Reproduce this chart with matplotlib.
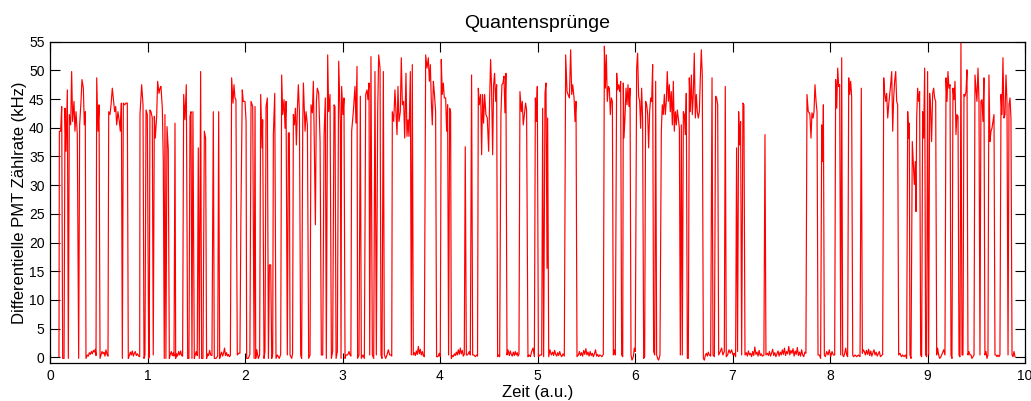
import matplotlib
matplotlib.use("Agg")
import matplotlib.pyplot as plt

# (time [a.u.], count rate [kHz]), one list per time unit
seg0 = [(0.092, 0.1), (0.096, 39.4), (0.109, 39.4), (0.120, 43.7), (0.130, -0.2), (0.144, -0.2), (0.154, 43.4),
        (0.164, 35.9), (0.178, 46.6), (0.188, -0.2), (0.198, 42.3), (0.212, 40.5), (0.222, 49.8), (0.232, 41.1),
        (0.246, 44.6), (0.256, 39.4), (0.267, 42.8), (0.280, 38.8), (0.294, -0.2), (0.304, 40.5), (0.318, 44.6),
        (0.328, 48.4), (0.342, 46.9), (0.352, 40.5), (0.362, 42.8), (0.369, -0.2), (0.383, 0.4), (0.393, 0.2),
        (0.403, 0.8), (0.414, 0.5), (0.424, 1.0), (0.434, 0.6), (0.444, 1.2), (0.455, 0.9), (0.465, 1.4),
        (0.472, 0.3), (0.479, 48.7), (0.492, 39.4), (0.503, 44.0), (0.513, -0.2), (0.523, 0.4), (0.533, 1.0),
        (0.544, 0.6), (0.554, 0.9), (0.564, 0.2), (0.574, 1.3), (0.585, 0.5), (0.595, 0.2), (0.602, 42.8),
        (0.615, 42.3), (0.626, 44.0), (0.639, 46.9), (0.653, 44.6), (0.663, 42.8), (0.674, 43.7), (0.684, 40.5),
        (0.697, 42.8), (0.711, 41.1), (0.721, 39.4), (0.732, 44.3), (0.742, -0.2), (0.752, 44.3), (0.766, 44.0),
        (0.779, 44.3), (0.793, 44.3), (0.803, -0.2), (0.814, 0.3), (0.824, 0.9), (0.834, 0.4), (0.844, 1.1),
        (0.855, 0.2), (0.865, 0.7), (0.875, 1.0), (0.885, 0.3), (0.896, 0.6), (0.909, 0.2), (0.920, 0.1),
        (0.923, 42.3), (0.940, 47.5), (0.954, 44.0), (0.964, -0.2), (0.974, 0.4), (0.985, 43.1), (0.998, 42.3),
        (1.012, -0.2)]

seg1 = [(1.018, 0.2), (1.025, 43.1), (1.036, 42.8), (1.049, 41.7), (1.059, 0.4), (1.070, 42.0), (1.080, 38.2),
        (1.094, 42.0), (1.104, 48.1), (1.118, 46.0), (1.128, 46.9), (1.138, 47.2), (1.152, 43.4), (1.162, 34.1),
        (1.172, -0.2), (1.179, 42.3), (1.189, -0.2), (1.200, 40.2), (1.213, 36.2), (1.224, -0.2), (1.234, 0.5),
        (1.244, 1.0), (1.254, 0.3), (1.265, 0.8), (1.272, 0.2), (1.282, 40.8), (1.289, -0.2), (1.299, 0.6),
        (1.309, 0.2), (1.319, 1.0), (1.330, 0.4), (1.340, 1.1), (1.350, 0.3), (1.360, 0.2), (1.371, 45.8),
        (1.384, 41.4), (1.398, 47.5), (1.412, -0.2), (1.425, -0.2), (1.436, 42.0), (1.446, 42.8), (1.456, -0.2),
        (1.466, 42.8), (1.480, -0.2), (1.490, 0.5), (1.500, 1.0), (1.510, 0.3), (1.521, 36.5), (1.531, -0.2),
        (1.545, 49.8), (1.555, -0.2), (1.569, -0.2), (1.583, 39.4), (1.596, 38.2), (1.606, -0.2), (1.617, 0.6),
        (1.627, 0.3), (1.637, 1.2), (1.648, 0.4), (1.661, 0.3), (1.675, 42.8), (1.685, -0.2), (1.702, -0.2),
        (1.720, 0.2), (1.730, 42.8), (1.740, -0.2), (1.750, 0.4), (1.760, 0.9), (1.770, 0.2), (1.780, 0.7),
        (1.790, 1.6), (1.800, 0.3), (1.810, 0.8), (1.820, 0.2), (1.830, 0.5), (1.840, 0.1), (1.850, 0.3),
        (1.863, 48.7), (1.877, 44.3), (1.887, 47.5), (1.897, 45.2), (1.907, 44.9), (1.921, 0.4), (1.935, 0.7),
        (1.948, 0.7), (1.958, 24.5), (1.972, 46.6), (1.982, 44.6)]

seg2 = [(2.000, 44.6), (2.011, 41.1), (2.017, -0.2), (2.034, -0.2), (2.050, 0.5), (2.062, 44.6), (2.079, 43.7),
        (2.093, -0.2), (2.103, 43.7), (2.110, -0.2), (2.120, 1.3), (2.137, -0.2), (2.150, 0.4), (2.161, 45.8),
        (2.175, 36.5), (2.181, 41.4), (2.195, -0.2), (2.205, 1.0), (2.216, 43.7), (2.229, 45.2), (2.240, -0.2),
        (2.250, 16.1), (2.264, 16.1), (2.274, -0.2), (2.284, 0.6), (2.291, 38.8), (2.305, 46.0), (2.318, -0.2),
        (2.332, 0.4), (2.352, -0.2), (2.366, 0.5), (2.376, 49.2), (2.387, 42.3), (2.400, 44.9), (2.411, 39.9),
        (2.421, 44.6), (2.434, 0.4), (2.445, 39.1), (2.455, 39.1), (2.462, 0.4), (2.479, -0.2), (2.488, 0.6),
        (2.496, 42.3), (2.506, 40.5), (2.517, 43.4), (2.527, 37.0), (2.537, 43.1), (2.547, 47.5), (2.558, 42.8),
        (2.571, 0.4), (2.581, -0.2), (2.592, 40.2), (2.599, 47.8), (2.616, 39.4), (2.626, 42.8), (2.640, 40.5),
        (2.653, -0.2), (2.667, 0.4), (2.677, 44.0), (2.691, 42.6), (2.701, 48.1), (2.711, 37.0), (2.722, 23.1),
        (2.732, 44.6), (2.742, 46.9), (2.756, 46.0), (2.770, 37.6), (2.783, 0.4), (2.797, 0.4), (2.811, 38.8),
        (2.824, 45.2), (2.834, -0.2), (2.848, 52.7), (2.858, 42.8), (2.872, 45.8), (2.886, -0.2), (2.899, 1.0),
        (2.913, 44.0), (2.923, 43.7), (2.934, -0.2), (2.947, 1.0), (2.961, 51.6)]

seg3 = [(2.978, 40.8), (2.985, -0.2), (2.991, 47.2), (3.005, 42.3), (3.015, 45.2), (3.026, -0.2), (3.036, 0.4),
        (3.053, 0.4), (3.067, 1.0), (3.077, 0.4), (3.086, 0.2), (3.094, 39.4), (3.111, 42.8), (3.128, 47.2),
        (3.138, 40.8), (3.149, 50.7), (3.155, -0.2), (3.169, 0.4), (3.183, 45.5), (3.193, -0.2), (3.210, 0.4),
        (3.224, -0.2), (3.238, 45.8), (3.251, 46.6), (3.261, 44.9), (3.272, 47.8), (3.279, 0.4), (3.292, 52.4),
        (3.306, 0.4), (3.320, -0.2), (3.333, 49.8), (3.347, 0.4), (3.361, 42.8), (3.371, 52.7), (3.385, 50.4),
        (3.395, 0.4), (3.405, -0.2), (3.419, 49.8), (3.429, 0.4), (3.443, -0.2), (3.456, 0.4), (3.470, 1.3),
        (3.484, 0.4), (3.497, 0.4), (3.505, 0.2), (3.511, 42.8), (3.525, 41.1), (3.538, 46.6), (3.549, 42.3),
        (3.559, 38.8), (3.569, 47.2), (3.579, 41.1), (3.593, 42.8), (3.603, 52.2), (3.614, 44.0), (3.627, 44.6),
        (3.638, 38.2), (3.651, 49.5), (3.661, 38.5), (3.672, 41.4), (3.682, 38.5), (3.696, 49.8), (3.706, 0.4),
        (3.716, 51.0), (3.726, 0.4), (3.737, 0.8), (3.747, 0.3), (3.757, 1.1), (3.767, 0.5), (3.778, 1.9),
        (3.788, 0.6), (3.798, 1.4), (3.808, 0.4), (3.819, 1.0), (3.829, 0.3), (3.839, 0.1), (3.853, 52.7),
        (3.867, 50.4), (3.880, 52.2), (3.891, 48.1), (3.901, 51.0), (3.911, 44.6), (3.921, 40.5), (3.932, 48.1)]

seg4 = [(3.941, 46.3), (3.955, 42.8), (3.965, 0.1), (3.979, 0.1), (3.993, 0.7), (4.003, 0.1), (4.013, 51.9),
        (4.023, 45.8), (4.034, 47.8), (4.044, 45.2), (4.058, 45.2), (4.068, 39.4), (4.078, 44.0), (4.088, 0.4),
        (4.099, 43.4), (4.109, 42.8), (4.116, -0.2), (4.126, 0.3), (4.136, 0.1), (4.147, 0.6), (4.157, 0.3),
        (4.167, 0.9), (4.177, 0.4), (4.188, 1.3), (4.198, 0.5), (4.208, 1.6), (4.218, 0.6), (4.229, 1.2),
        (4.239, 0.2), (4.249, 0.5), (4.259, 36.7), (4.270, 0.4), (4.283, 0.4), (4.300, 1.0), (4.311, 0.4),
        (4.324, 49.2), (4.335, 0.4), (4.348, 0.4), (4.362, 0.1), (4.376, 0.4), (4.385, 0.2), (4.393, 46.9),
        (4.403, 44.0), (4.417, 45.8), (4.427, 35.3), (4.437, 45.8), (4.447, 40.8), (4.458, 45.8), (4.471, 42.3),
        (4.485, 41.7), (4.499, 35.9), (4.509, 44.9), (4.519, 51.9), (4.529, 46.9), (4.540, 35.3), (4.550, 47.5),
        (4.560, 49.5), (4.571, 44.6), (4.581, 47.5), (4.591, 0.1), (4.601, 0.4), (4.612, 0.1), (4.625, 42.3),
        (4.635, 47.5), (4.646, 47.8), (4.656, 49.0), (4.666, 42.6), (4.676, 49.5), (4.687, 0.4), (4.697, 1.3),
        (4.711, 0.3), (4.721, 1.1), (4.731, 0.5), (4.741, 0.2), (4.752, 0.9), (4.762, 0.3), (4.772, 1.0),
        (4.782, 0.4), (4.793, 0.8), (4.800, 0.2), (4.810, 0.5), (4.820, 46.3), (4.834, 42.8), (4.844, 44.6),
        (4.854, 40.5), (4.868, 42.8), (4.878, 44.3), (4.888, 43.1), (4.902, 0.1)]

seg5 = [(4.913, 0.4), (4.927, 0.1), (4.940, 1.0), (4.954, 1.6), (4.968, 0.1), (4.978, 45.2), (4.988, 41.1),
        (4.998, 47.2), (5.009, 0.1), (5.026, 0.4), (5.043, 0.4), (5.053, 43.4), (5.063, 0.1), (5.077, 46.0),
        (5.087, 47.8), (5.098, 15.5), (5.104, 41.7), (5.115, 0.1), (5.128, 1.3), (5.142, 0.4), (5.156, 0.9),
        (5.166, 0.3), (5.176, 1.2), (5.187, 0.5), (5.197, 0.2), (5.207, 0.8), (5.217, 0.3), (5.228, 1.0),
        (5.238, 0.4), (5.248, 0.1), (5.262, 0.6), (5.275, 0.2), (5.289, 52.7), (5.303, 46.3), (5.313, 45.8),
        (5.327, 45.2), (5.340, 53.6), (5.351, 45.8), (5.361, 47.5), (5.375, 45.2), (5.385, 41.1), (5.395, 44.6),
        (5.405, 0.1), (5.419, 0.4), (5.430, 1.0), (5.441, 0.3), (5.452, 0.8), (5.463, 0.2), (5.474, 1.2),
        (5.485, 0.5), (5.496, 1.5), (5.507, 0.4), (5.518, 0.9), (5.529, 0.2), (5.540, 1.0), (5.551, 0.3),
        (5.562, 0.7), (5.573, 0.1), (5.584, 0.6), (5.595, 1.3), (5.606, 0.2), (5.617, 0.5), (5.628, 0.1),
        (5.639, 0.4), (5.650, 0.3), (5.660, 0.1), (5.675, 0.5), (5.686, 54.2), (5.696, 46.9), (5.706, 52.7),
        (5.716, 44.6), (5.727, 47.2), (5.737, 46.9), (5.747, 42.3), (5.757, 45.2), (5.768, 44.6), (5.778, 0.4),
        (5.788, 1.3), (5.798, 0.4), (5.812, 49.5), (5.822, 46.6), (5.833, 47.5), (5.843, 46.3), (5.853, 48.1),
        (5.863, 0.4), (5.874, 0.1)]

seg6 = [(5.880, 47.8), (5.887, 38.2), (5.897, 41.7), (5.908, 46.9), (5.918, 44.0), (5.928, 47.5), (5.938, 43.7),
        (5.949, 46.9), (5.959, 0.4), (5.969, -0.5), (5.983, 0.1), (5.993, 1.6), (6.003, 1.0), (6.017, 50.4),
        (6.027, 53.0), (6.037, 45.5), (6.048, 44.6), (6.058, 39.9), (6.068, 46.9), (6.078, 41.7), (6.089, -0.2),
        (6.099, 0.1), (6.109, 44.6), (6.120, 44.0), (6.130, 42.3), (6.140, 36.5), (6.150, 42.8), (6.161, 45.2),
        (6.171, 44.6), (6.181, 51.0), (6.191, 1.0), (6.202, 0.4), (6.212, 48.1), (6.222, 0.4), (6.232, -0.2),
        (6.243, -0.5), (6.256, 0.4), (6.270, 39.4), (6.280, 44.0), (6.290, 42.3), (6.301, 45.8), (6.311, 42.3),
        (6.321, 44.6), (6.331, 49.8), (6.342, 44.6), (6.352, 47.5), (6.362, 42.8), (6.372, 46.3), (6.383, 40.5),
        (6.393, 48.1), (6.403, 39.4), (6.414, 42.8), (6.424, 40.5), (6.434, 43.1), (6.444, 41.7), (6.455, 39.9),
        (6.465, 0.4), (6.475, 40.5), (6.485, 0.4), (6.496, 42.8), (6.506, 42.3), (6.516, 38.8), (6.526, 46.0),
        (6.537, -0.2), (6.547, -0.2), (6.557, 48.7), (6.567, 42.8), (6.578, 49.2), (6.588, 42.3), (6.598, 45.8),
        (6.608, 53.0), (6.619, 41.7), (6.629, 45.8), (6.639, 42.8), (6.649, 41.7), (6.660, 42.8), (6.670, 48.7),
        (6.680, 53.6), (6.690, 49.2), (6.701, -0.2), (6.711, -0.5), (6.721, 0.3), (6.731, 0.7), (6.742, 0.2),
        (6.752, 0.9), (6.762, 0.4), (6.776, 0.2), (6.790, 48.7), (6.800, 0.4), (6.814, 0.1), (6.827, 45.5),
        (6.837, 45.2), (6.848, 44.0), (6.858, 0.4)]

seg7 = [(6.875, 1.0), (6.888, 1.6), (6.902, 0.4), (6.916, 1.0), (6.926, 47.2), (6.936, 0.1), (6.950, 0.4),
        (6.964, 1.3), (6.977, 0.7), (6.991, 1.3), (7.005, 0.4), (7.018, 0.7), (7.032, 0.1), (7.042, 36.5),
        (7.052, 1.0), (7.063, 42.8), (7.073, 37.0), (7.083, 41.1), (7.094, 0.4), (7.107, 44.3), (7.117, 44.0),
        (7.128, 0.4), (7.141, 0.8), (7.152, 0.2), (7.163, 1.1), (7.174, 0.4), (7.185, 0.7), (7.196, 0.1),
        (7.207, 1.0), (7.218, 0.3), (7.229, 1.8), (7.240, 0.5), (7.251, 0.9), (7.262, 0.2), (7.273, 1.2),
        (7.284, 0.3), (7.295, 0.6), (7.306, 0.2), (7.322, 0.4), (7.333, 38.8), (7.343, 0.4), (7.357, 0.7),
        (7.368, 0.3), (7.379, 1.0), (7.390, 0.2), (7.401, 0.7), (7.412, 1.4), (7.423, 0.3), (7.434, 0.8),
        (7.445, 0.1), (7.456, 0.6), (7.467, 1.1), (7.478, 0.2), (7.489, 0.9), (7.500, 0.4), (7.511, 1.3),
        (7.522, 0.5), (7.533, 1.6), (7.544, 0.3), (7.555, 1.0), (7.566, 0.6), (7.577, 1.9), (7.588, 0.4),
        (7.599, 1.2), (7.610, 0.7), (7.621, 1.5), (7.632, 0.2), (7.643, 1.1), (7.654, 0.5), (7.665, 1.7),
        (7.676, 0.3), (7.687, 0.9), (7.698, 0.2), (7.709, 1.3), (7.720, 0.4), (7.731, 0.1), (7.742, 0.9),
        (7.753, 0.7), (7.764, 45.8), (7.777, 42.8), (7.788, 42.6), (7.794, 42.3), (7.805, 38.2), (7.815, 42.6)]

seg8 = [(7.826, 41.7), (7.836, 42.8), (7.846, 47.5), (7.857, 44.6), (7.867, 42.8), (7.877, 0.4), (7.891, 0.4),
        (7.904, -0.2), (7.915, 40.5), (7.925, 34.1), (7.932, 44.0), (7.942, 0.4), (7.952, 0.1), (7.966, 1.0),
        (7.980, 0.4), (7.993, 1.3), (8.007, 0.1), (8.021, 1.0), (8.034, 0.4), (8.048, 0.4), (8.058, 48.4),
        (8.069, 43.4), (8.079, 50.4), (8.089, 47.2), (8.099, 47.5), (8.110, 0.4), (8.120, 52.2), (8.130, 0.4),
        (8.140, 0.1), (8.151, 0.7), (8.161, 1.6), (8.171, 0.4), (8.181, 0.1), (8.192, 48.7), (8.202, 45.8),
        (8.212, 48.1), (8.222, 45.5), (8.233, 0.4), (8.243, 0.1), (8.257, 0.4), (8.274, 0.1), (8.291, 0.4),
        (8.308, 0.1), (8.321, 46.9), (8.332, 0.7), (8.342, 1.3), (8.352, 1.0), (8.363, 0.4), (8.374, 1.2),
        (8.385, 0.5), (8.396, 1.4), (8.407, 0.3), (8.418, 1.1), (8.429, 0.2), (8.440, 0.8), (8.451, 1.3),
        (8.462, 0.4), (8.473, 0.9), (8.484, 0.2), (8.495, 0.6), (8.506, 1.0), (8.517, 0.1), (8.528, 0.3),
        (8.540, 0.5), (8.551, 48.7), (8.561, 46.0), (8.571, 44.6), (8.581, 46.0), (8.592, 41.7), (8.602, 44.0),
        (8.612, 45.8), (8.622, 47.5), (8.633, 49.8), (8.643, 39.4), (8.653, 45.2), (8.663, 48.1), (8.674, 49.8),
        (8.684, 44.6), (8.694, 44.0), (8.704, 0.4), (8.718, 0.7), (8.732, 0.1), (8.745, 0.4), (8.759, 0.1),
        (8.773, 0.4), (8.786, -0.2), (8.797, 42.8)]

seg9 = [(8.807, 38.2), (8.813, 40.8), (8.820, 0.4), (8.831, -0.2), (8.844, 37.6), (8.854, 34.1), (8.865, 30.1),
        (8.875, 34.1), (8.882, 25.4), (8.889, 41.7), (8.899, 46.9), (8.909, 44.6), (8.919, 46.3), (8.930, 0.4),
        (8.940, 0.1), (8.950, 42.8), (8.960, 38.2), (8.971, 50.4), (8.981, 0.4), (8.991, 0.1), (9.001, 49.8),
        (9.012, 0.4), (9.022, 46.0), (9.032, 43.4), (9.042, 37.6), (9.053, 46.0), (9.063, 46.9), (9.073, 45.2),
        (9.084, 44.6), (9.094, 0.4), (9.104, 1.6), (9.114, 0.4), (9.125, -0.2), (9.138, 0.1), (9.152, 0.7),
        (9.166, 1.3), (9.179, 0.4), (9.190, 48.7), (9.200, 44.6), (9.210, 49.8), (9.220, 46.9), (9.231, 47.5),
        (9.241, 0.4), (9.251, -0.2), (9.261, 46.9), (9.272, 44.9), (9.282, 48.1), (9.292, 38.8), (9.302, 42.3),
        (9.313, 42.0), (9.323, 0.4), (9.333, 0.1), (9.343, 55.1), (9.354, 0.4), (9.364, 0.4), (9.374, 45.8),
        (9.384, 45.5), (9.395, 46.3), (9.405, 50.1), (9.415, 0.4), (9.425, 1.0), (9.436, 0.4), (9.446, 0.4),
        (9.456, -0.2), (9.466, 0.1), (9.477, 0.4), (9.487, 49.2), (9.497, 46.9), (9.507, 44.6), (9.518, 50.4),
        (9.528, 44.6), (9.538, 0.4), (9.548, 44.6), (9.559, 44.9), (9.569, 41.1), (9.579, 48.7), (9.589, 0.4),
        (9.600, 1.0), (9.610, -0.2), (9.620, 0.4), (9.630, 49.2), (9.641, 37.6), (9.651, 39.4), (9.661, 39.9),
        (9.672, 41.1), (9.682, 42.3), (9.692, 0.4), (9.702, 0.4), (9.713, 0.1), (9.723, 0.4), (9.733, 0.1),
        (9.743, 0.4), (9.754, 45.8), (9.764, 42.3), (9.774, 52.2), (9.784, 41.7), (9.795, 42.3), (9.805, 49.2),
        (9.815, 44.6), (9.826, 0.4), (9.836, 44.0), (9.846, 45.2), (9.856, 41.7), (9.867, 0.4), (9.877, 0.1),
        (9.887, 1.0), (9.897, 0.1)]

segments = [seg0, seg1, seg2, seg3, seg4, seg5, seg6, seg7, seg8, seg9]

title = "Quantensprünge"
xlabel = "Zeit (a.u.)"
ylabel = "Differentielle PMT Zählrate (kHz)"
xticks = list(range(0, 11))
yticks = list(range(0, 56, 5))

plt.rcParams['font.family'] = ['Liberation Sans', 'DejaVu Sans']

times = [p[0] for s in segments for p in s]
rates = [p[1] for s in segments for p in s]

fig = plt.figure(figsize=(10.31, 4.01), dpi=100)
ax = fig.add_axes([50 / 1031, 1 - 363 / 401, 975 / 1031, (363 - 41.7) / 401])
ax.plot(times, rates, color='#ff0000', linewidth=0.85)
ax.set_xlim(0, 10)
ax.set_ylim(-1, 55)
ax.set_xticks(xticks)
ax.set_yticks(yticks)
ax.tick_params(direction='in', length=7, width=0.8, top=True, right=True, labelsize=10, pad=4)
for sp in ax.spines.values():
    sp.set_linewidth(0.9)
ax.set_title(title, fontsize=14, pad=10)
ax.set_xlabel(xlabel, fontsize=12, labelpad=2)
ax.set_ylabel(ylabel, fontsize=12, labelpad=1)

fig.savefig("out.png", dpi=100)
